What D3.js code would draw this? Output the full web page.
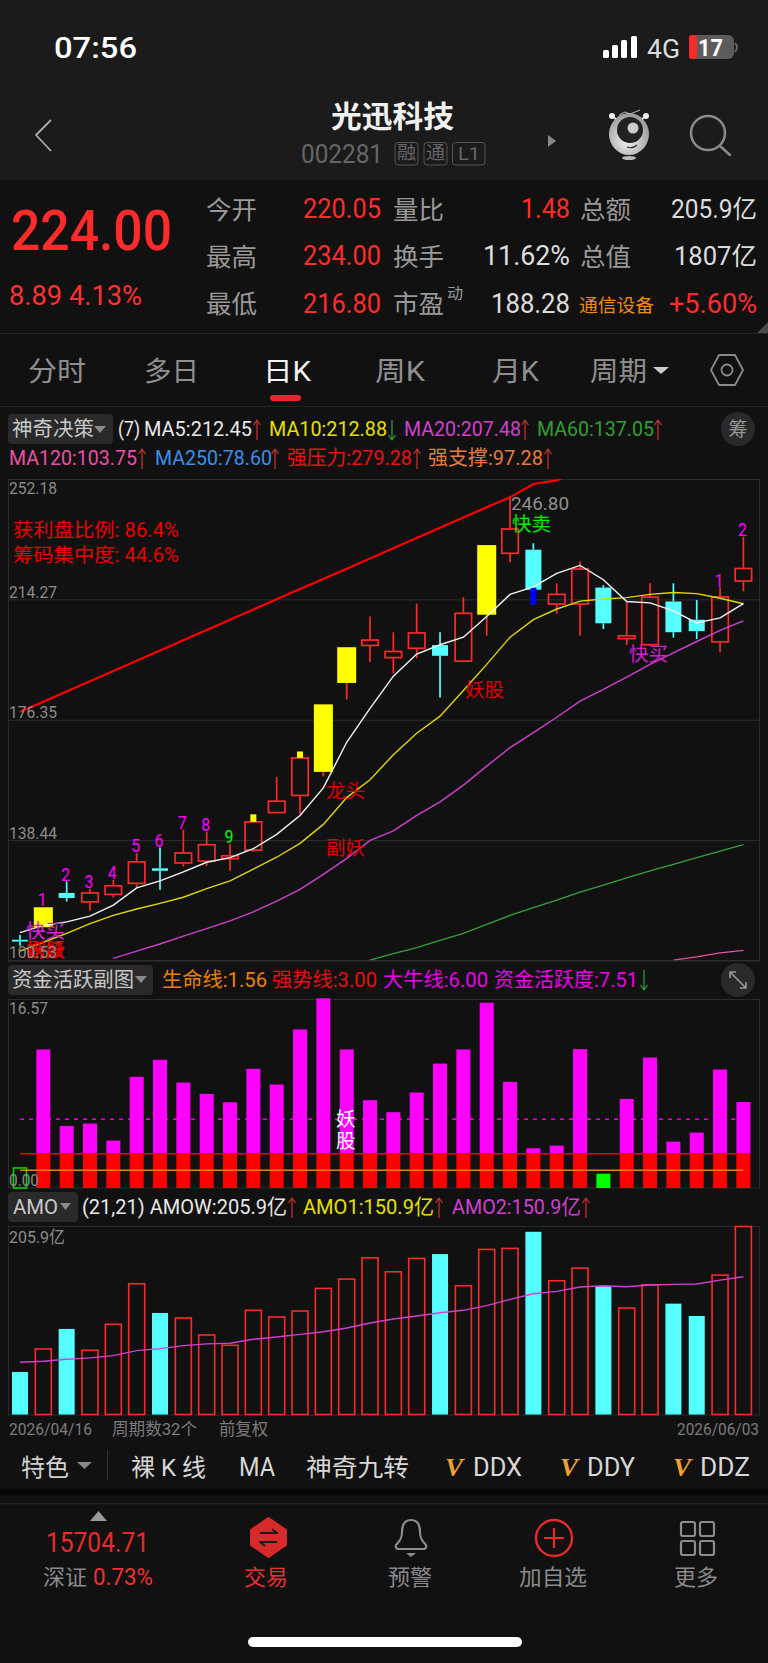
<!DOCTYPE html>
<html><head><meta charset="utf-8">
<style>html,body{margin:0;padding:0;background:#111;}svg{display:block;}text{font-family:Roboto,'Noto Sans CJK SC',sans-serif;white-space:pre;}</style>
<script src="https://cdn.jsdelivr.net/npm/d3@7"></script></head><body>
<script>
// ---- chart data ----
const priceTicks=[252.18,214.27,176.35,138.44,100.53];
const highs=[108.53,117.30,125.40,123.15,125.96,134.40,136.09,141.71,141.15,137.21,146.55,158.36,166.35,181.20,199.20,208.87,203.92,212.92,203.92,214.94,231.37,246.80,231.93,219.33,226.31,218.77,213.71,219.33,219.33,214.05,217.98,234.00];
const tops=[107.07,117.30,121.80,121.80,124.05,131.59,129.56,134.40,136.99,133.50,144.19,150.71,164.32,181.20,199.20,201.45,197.85,203.70,199.87,209.88,231.37,236.43,229.91,215.84,223.83,217.98,202.80,214.94,213.60,207.86,215.06,224.00];
const bottoms=[106.50,111.00,120.23,118.99,121.35,124.84,128.78,131.25,131.81,132.60,135.30,147.11,152.51,159.94,187.95,199.76,195.93,198.86,196.50,194.81,209.43,228.78,217.31,212.81,212.81,206.73,201.90,199.98,203.92,204.26,200.88,220.05];
const lows=[105.15,111.00,119.10,116.18,120.34,123.15,122.82,130.13,130.35,128.78,134.74,147.11,146.78,158.47,182.77,194.58,190.87,195.71,183.34,194.81,202.80,225.97,212.58,209.77,202.80,204.93,199.87,199.65,202.23,201.78,197.62,216.80];
const candleKinds=['c','y','c','r','r','r','c','r','r','r','r','r','r','y','y','r','r','r','c','r','y','r','c','r','r','c','r','r','c','c','r','r'];
const yellowTopIdx=[10,12];
const blueTailIdx=[22];
const ma5=[109.32,111.57,112.69,114.49,117.98,123.38,125.63,128.44,131.48,132.94,135.75,140.25,146.21,154.88,169.27,179.96,190.08,197.06,199.98,202.35,208.87,215.84,218.21,222.48,224.96,220.46,213.60,213.15,210.67,206.85,208.42,212.95];
const ma10=[103.47,106.28,109.09,112.13,114.72,116.74,118.54,120.45,123.15,125.63,129.34,133.05,137.44,143.40,151.84,157.46,165.34,172.09,177.49,185.59,193.80,202.35,207.86,211.23,213.71,214.38,214.83,215.84,216.41,216.07,214.61,212.88];
const ma20=[null,null,null,null,101.22,103.47,105.72,108.19,110.55,113.03,115.84,119.22,122.93,127.65,132.71,138.34,141.38,146.21,150.49,155.78,161.74,167.59,172.31,177.15,182.21,185.92,189.75,193.80,197.40,201.00,204.48,207.48];
const ma60=[null,null,null,null,null,null,null,null,null,null,null,null,null,null,null,100.65,102.68,104.59,106.84,109.09,111.90,114.72,117.19,119.55,122.03,124.28,126.53,128.78,130.80,132.94,134.96,137.05];
const ma120=[null,null,null,null,null,null,null,null,null,null,null,null,null,null,null,null,null,null,null,null,null,null,null,null,null,null,null,null,100.65,101.67,102.90,103.75];
const pressure=[178.84,182.06,185.28,188.50,191.72,194.95,198.17,201.39,204.61,207.84,211.06,214.28,217.50,220.72,223.95,227.17,230.39,233.61,236.84,240.06,243.28,246.40,250.60,251.73,255.00];
const nineIdx=[1,2,3,4,5,6,7,8,9,30,31];
const nineText=['1','2','3','4','5','6','7','8','9','1','2'];
const activity=[1.75,12.10,5.42,5.63,4.14,9.71,11.20,9.21,8.22,7.49,10.41,9.04,13.85,16.57,12.10,7.67,6.62,8.34,10.87,12.10,16.18,9.27,3.47,3.70,12.13,1.25,7.78,11.40,4.05,4.84,10.35,7.51];
const activityLevels={life:1.56,strong:3.00,bull:6.00};
const amo=[46.6,71.8,93.7,70.3,98.8,143.2,111.2,105.7,87.1,75.8,114.1,106.8,113.3,138.1,148.3,171.6,156.3,170.9,175.7,141.0,180.8,181.9,200.1,146.5,160.3,140.7,116.6,142.1,121.4,107.9,152.7,205.9];
const amoCyan=[0,2,6,18,22,25,28,29];
const amo2=[57.2,58.3,60.5,62.0,64.5,70.0,72.2,75.4,77.3,78.0,82.4,84.9,87.8,90.7,94.8,100.2,104.6,107.9,111.5,114.1,119.2,126.1,132.3,134.8,139.6,141.0,139.9,141.8,142.5,142.9,147.2,150.9];

const svg=d3.select('body').append('svg').attr('width',768).attr('height',1663).attr('viewBox','0 0 768 1663');
function T(x,y,s,size,color,o={}){
  const t=svg.append('text').attr('x',x).attr('y',y).text(s).attr('font-size',size).attr('fill',color);
  if(o.a)t.attr('text-anchor',o.a);
  if(o.wt)t.attr('font-weight',o.wt);
  if(o.w)t.attr('textLength',o.w).attr('lengthAdjust','spacingAndGlyphs');
  if(o.st)t.attr('font-style',o.st);
  if(o.ff)t.style('font-family',o.ff);
  return t;
}
function R(x,y,w,h,fill,o={}){
  const r=svg.append('rect').attr('x',x).attr('y',y).attr('width',w).attr('height',h).attr('fill',fill);
  if(o.r)r.attr('rx',o.r).attr('ry',o.r);
  if(o.s)r.attr('stroke',o.s).attr('stroke-width',o.sw||1);
  return r;
}
function P(d,o={}){return svg.append('path').attr('d',d).attr('fill',o.fill||'none').attr('stroke',o.s||'none').attr('stroke-width',o.sw||1).attr('stroke-linecap',o.cap||'butt').attr('stroke-linejoin','round');}
function upArrow(x,y1,y2,c){P(`M${x} ${y2}V${y1}M${x-3.5} ${y1+5}L${x} ${y1}L${x+3.5} ${y1+5}`,{s:c,sw:1.3});}
function dnArrow(x,y1,y2,c){P(`M${x} ${y1}V${y2}M${x-3.5} ${y2-5}L${x} ${y2}L${x+3.5} ${y2-5}`,{s:c,sw:1.3});}
const GREY='#8c8c8c',RED='#fa2a2a';

// ---- backgrounds ----
R(0,0,768,1663,'#111');
R(0,0,768,180,'#1b1b1b');
P('M768 322V333H757Z',{fill:'#4a4a4a'});
R(0,333,768,1,'#242424');
R(0,406,768,1,'#242424');

// ---- status bar ----
T(54,58,'07:56',30,'#fff',{w:83,wt:500});
[[603,8],[612,13],[621,18],[631,22]].forEach(([x,h])=>R(x,58-h,6,h,'#fff',{r:1.5}));
T(647,58,'4G',25,'#ddd',{w:33});
R(689,35,45,24,'#5c5c5c',{r:6});
R(689,35,8,24,RED,{r:3});
T(698,56,'17',24,'#fff',{w:25,wt:700});
P('M735 43Q739 47 735 52',{s:'#666',sw:2});

// ---- header ----
T(331,127,'光迅科技',30,'#f0f0f0',{w:123,wt:700});
P('M51 120L36 135L51 151',{s:'#aaa',sw:1.8});
T(301,163,'002281',26,'#666',{w:82});
R(395,142.5,23,22.5,'none',{r:3,s:'#555'});T(397,159,'融',18,'#666',{w:19});
R(424,142.5,23,22.5,'none',{r:3,s:'#555'});T(426,159,'通',18,'#666',{w:19});
R(452.5,142.5,32.5,22.5,'none',{r:3,s:'#555'});T(458,160,'L1',18,'#666',{w:22});
P('M548 135L556 141L548 147Z',{fill:'#888'});
// mascot
const lg=svg.append('defs').append('radialGradient').attr('id','egg').attr('cx','45%').attr('cy','65%').attr('r','70%');
lg.append('stop').attr('offset','0%').attr('stop-color','#f4f4f4');lg.append('stop').attr('offset','100%').attr('stop-color','#8f8f8f');
svg.append('ellipse').attr('cx',629).attr('cy',134).attr('rx',20).attr('ry',21).attr('fill','url(#egg)');
svg.append('circle').attr('cx',630).attr('cy',130).attr('r',13).attr('fill','#222');
svg.append('circle').attr('cx',633).attr('cy',128).attr('r',5.5).attr('fill','#ccc');
P('M627 147Q633 149 637 145',{s:'#333',sw:1.2});
P('M616 119L612 116M642 119L646 116',{s:'#ddd',sw:2});
svg.append('circle').attr('cx',612).attr('cy',116).attr('r',3).attr('fill','#eee');
svg.append('circle').attr('cx',646).attr('cy',116).attr('r',3).attr('fill','#eee');
P('M619 115L625 112L630 114L640 110',{s:'#bbb',sw:1});
svg.append('ellipse').attr('cx',629).attr('cy',158).attr('rx',7).attr('ry',2).attr('fill','#bbb');
// search
svg.append('circle').attr('cx',708).attr('cy',133).attr('r',17).attr('fill','none').attr('stroke','#8a8a8a').attr('stroke-width',2.5);
P('M720 146L730 155',{s:'#8a8a8a',sw:2.5,cap:'round'});

// ---- quote block ----
T(11,250,'224.00',56,'#ff2b2b',{w:161,wt:500});
T(9,305,'8.89 4.13%',27,'#ff3030',{w:133});
T(206,219,'今开',25.5,'#999');T(206,266,'最高',25.5,'#999');T(206,313,'最低',25.5,'#999');
T(303,218,'220.05',27,'#ff2b2b',{w:78});T(303,265,'234.00',27,'#ff2b2b',{w:78});T(303,313,'216.80',27,'#ff2b2b',{w:78});
T(393,219,'量比',25.5,'#999');T(393,266,'换手',25.5,'#999');T(393,313,'市盈',25.5,'#999');T(447,299,'动',16,'#999');
T(521,218,'1.48',27,'#ff2b2b',{w:49});T(483,265,'11.62%',27,'#ddd',{w:87});T(491,313,'188.28',27,'#ddd',{w:79});
T(580,219,'总额',25.5,'#999');T(580,266,'总值',25.5,'#999');
T(579,312,'通信设备',18.5,'#f08a10',{w:75});
T(671,218,'205.9亿',25,'#ddd',{w:86});T(674,265,'1807亿',25,'#ddd',{w:83});T(669,313,'+5.60%',27,'#ff2b2b',{w:88});

// ---- period tabs ----
[[28,'分时',58],[144,'多日',55],[375,'周K',50],[492,'月K',47],[590,'周期',57]].forEach(([x,s,w])=>T(x,381,s,27,'#8f8f8f',{w}));
T(263,381,'日K',27,'#f4f4f4',{w:48});
P('M653 367H669L661 374Z',{fill:'#ccc'});
P('M719 355H735L743 370L735 385H719L711 370Z',{s:'#8a8a8a',sw:1.8});
svg.append('circle').attr('cx',727).attr('cy',370).attr('r',5.5).attr('fill','none').attr('stroke','#8a8a8a').attr('stroke-width',1.8);
R(270,395,31,6,'#e8262c',{r:3});

// ---- main legend ----
R(8,414,105,30,'#2a2a2a',{r:4});
T(12,436,'神奇决策',20.5,'#c8c8c8',{w:82});
P('M94 426H106L100 433Z',{fill:'#8a8a8a'});
T(118,436,'(7)',21,'#e8e8e8',{w:22});
T(144,436,'MA5:212.45',21,'#e8e8e8',{w:108});upArrow(257,420,440,'#c03030');
T(269,436,'MA10:212.88',21,'#e6e000',{w:118});dnArrow(392,420,440,'#2a9a3a');
T(404,436,'MA20:207.48',21,'#d040d0',{w:117});upArrow(525,420,440,'#c03030');
T(537,436,'MA60:137.05',21,'#30a030',{w:117});upArrow(658,420,440,'#c03030');
svg.append('circle').attr('cx',738).attr('cy',429).attr('r',17).attr('fill','#2a2a2a');
T(738,436,'筹',19,'#999',{a:'middle'});
T(9,465,'MA120:103.75',21,'#ec4fa8',{w:128});upArrow(142,449,469,'#c03030');
T(155,465,'MA250:78.60',21,'#3a90e8',{w:117});upArrow(275,449,469,'#c03030');
T(287,465,'强压力:279.28',20.5,'#f01010',{w:125});upArrow(417,449,469,'#c03030');
T(428,465,'强支撑:97.28',20.5,'#e87a3c',{w:115});upArrow(548,449,469,'#c03030');

// ---- main chart ----
const x=d3.scaleLinear().domain([0,31]).range([20,743.4]);
const y=d3.scaleLinear().domain([100.53,252.18]).range([960.5,479]);
const defs=svg.append('defs');
defs.append('clipPath').attr('id','mainClip').append('rect').attr('x',8).attr('y',479).attr('width',752).attr('height',481.5);
R(8.5,479.5,751,481,'none',{s:'#2b2b2b'});
const grid=svg.append('g').attr('transform','translate(8,0)').call(d3.axisRight(y).tickValues(priceTicks).tickSize(752).tickFormat(''));
grid.select('.domain').remove();grid.selectAll('line').attr('stroke','#2e2e2e');
const plot=svg.append('g');
const candleColor={r:RED,c:'#55ffff',y:'#ffff00'};
highs.forEach((h,i)=>{
  const k=candleKinds[i],cx=x(i),t=y(tops[i]),b=y(bottoms[i]);
  const wc=k==='y'?RED:candleColor[k];
  const bw=k==='y'?19:(k==='c'?16:16.5);
  plot.append('line').attr('x1',cx).attr('x2',cx).attr('y1',y(h)).attr('y2',t).attr('stroke',wc).attr('stroke-width',1.7);
  plot.append('line').attr('x1',cx).attr('x2',cx).attr('y1',b).attr('y2',y(lows[i])).attr('stroke',wc).attr('stroke-width',1.7);
  const r=plot.append('rect').attr('x',cx-bw/2).attr('y',t).attr('width',bw).attr('height',Math.max(b-t,1));
  if(k==='r')r.attr('fill','none').attr('stroke',RED).attr('stroke-width',1.7);
  else r.attr('fill',candleColor[k]);
  if(yellowTopIdx.includes(i))plot.append('rect').attr('x',cx-3).attr('y',y(h)).attr('width',6).attr('height',t-y(h)).attr('fill','#ffff00');
  if(blueTailIdx.includes(i))plot.append('rect').attr('x',cx-3).attr('y',b-2).attr('width',6).attr('height',y(lows[i])-b+2).attr('fill','#0000ff');
});
const lineMain=d3.line().defined(d=>d!=null).x((d,i)=>x(i)).y(d=>y(d));
const cg=svg.append('g').attr('clip-path','url(#mainClip)');
[[ma120,'#e84fa0',1.3],[ma60,'#38a038',1.3],[ma20,'#d040d0',1.4],[ma10,'#e0d800',1.4],[ma5,'#f4f4f4',1.4],[pressure,'#ff0000',2.2]].forEach(([d,c,w])=>{
  cg.append('path').datum(d).attr('d',lineMain).attr('fill','none').attr('stroke',c).attr('stroke-width',w);
});
// chart annotations
T(13,537,'获利盘比例: 86.4%',19.5,'#ee0000',{w:166});
T(13,562,'筹码集中度: 44.6%',19.5,'#ee0000',{w:166});
nineIdx.forEach((n,j)=>{
  const isGreen=nineText[j]==='9';
  T(x(n)-1,y(highs[n])-1,nineText[j],19,isGreen?'#00ff00':'#ff00ff',{a:'middle',w:9});
});
T(511,510,'246.80',19,'#8f8f8f',{w:58});
T(512,531,'快卖',19.5,'#00f000');
T(629,661,'快买',19.5,'#d020d0');
T(465,697,'妖股',19.5,'#e00000');
T(326,798,'龙头',19.5,'#e00000');
T(326,855,'副妖',19.5,'#e00000');
T(26,938,'快买',19.5,'#e020e0');
T(26,957,'副妖',19.5,'#ee0000');
T(26,957,'妖股',19.5,'#ee0000');
priceTicks.forEach((p,i)=>T(9,[494,597.5,718,838.5,958][i],p.toFixed(2),17,GREY,{w:48}));

// ---- activity panel ----
R(8,965,145,30,'#2a2a2a',{r:4});
T(12,987,'资金活跃副图',20.5,'#c8c8c8',{w:122});
P('M135 976H147L141 983Z',{fill:'#8a8a8a'});
T(162,987,'生命线:1.56',20.5,'#f08000',{w:105});
T(272,987,'强势线:3.00',20.5,'#e81010',{w:105});
T(383,987,'大牛线:6.00',20.5,'#ee00ee',{w:105});
T(494,987,'资金活跃度:7.51',20.5,'#ee00ee',{w:144});
dnArrow(644,970,990,'#2a9a3a');
svg.append('circle').attr('cx',738).attr('cy',980).attr('r',17).attr('fill','#2a2a2a');
P('M730 972L746 988M730 978V972H736M746 982V988H740',{s:'#999',sw:1.6});
R(8.5,999.5,751,188.5,'none',{s:'#2b2b2b'});
const ya=d3.scaleLinear().domain([0,16.57]).range([1188,998.3]);
P(`M${x(0)} ${ya(activityLevels.bull)}H${x(31)}`,{s:'#ee00ee',sw:1.6}).attr('stroke-dasharray','4 5');
activity.forEach((v,i)=>{
  const cx=x(i);
  if(i===0){R(cx-6.5,ya(v),13,1188-ya(v),'none',{s:'#00e000',sw:1.5});return;}
  if(v<activityLevels.strong){R(cx-7,ya(v),14,1188-ya(v),'#00ff00');return;}
  R(cx-7,ya(v),14,ya(activityLevels.strong)-ya(v),'#ff00ff');
  R(cx-7,ya(activityLevels.strong),14,1188-ya(activityLevels.strong),'#ff0000');
});
P(`M${x(0)} ${ya(activityLevels.strong)}H${x(31)}`,{s:'#f00000',sw:1.5});
P(`M${x(0)} ${ya(activityLevels.life)}H${x(31)}`,{s:'#f08000',sw:1.5});
T(9,1014,'16.57',17,GREY,{w:39});
T(9,1186,'0.00',17,GREY,{w:30});
T(336,1126,'妖',19.5,'#fff');
T(336,1148,'股',19.5,'#fff');

// ---- AMO panel ----
R(8,1192,70,30,'#2a2a2a',{r:4});
T(13,1214,'AMO',21,'#c8c8c8',{w:45});
P('M60 1203H71L65.5 1210Z',{fill:'#8a8a8a'});
T(82,1214,'(21,21) AMOW:205.9亿',21,'#e8e8e8',{w:205});upArrow(292,1198,1218,'#c03030');
T(303,1214,'AMO1:150.9亿',21,'#e6e000',{w:131});upArrow(439,1198,1218,'#c03030');
T(452,1214,'AMO2:150.9亿',21,'#d040d0',{w:129});upArrow(586,1198,1218,'#c03030');
R(8.5,1226.5,751,188.5,'none',{s:'#2b2b2b'});
const yv=d3.scaleLinear().domain([0,205.9]).range([1414.5,1226.5]);
amo.forEach((v,i)=>{
  if(amoCyan.includes(i))R(x(i)-8,yv(v),16,yv(0)-yv(v),'#55ffff');
  else R(x(i)-8,yv(v),16,yv(0)-yv(v),'none',{s:RED,sw:1.6});
});
svg.append('path').datum(amo2).attr('d',d3.line().x((d,i)=>x(i)).y(d=>yv(d))).attr('fill','none').attr('stroke','#d040d0').attr('stroke-width',1.4);
T(9,1243,'205.9亿',17,GREY,{w:56});
T(9,1435,'2026/04/16',17,'#7c7c7c',{w:83});
T(112,1435,'周期数32个',16.5,'#7c7c7c',{w:85});
T(219,1435,'前复权',16.5,'#7c7c7c',{w:49});
T(677,1435,'2026/06/03',17,'#7c7c7c',{w:82});

// ---- toolbar ----
T(21,1476,'特色',24,'#d0d0d0',{w:48});
P('M77 1462H92L84.5 1469Z',{fill:'#888'});
R(107,1450,1,30,'#333');
T(131,1476,'裸 K 线',24,'#d8d8d8',{w:75});
T(239,1476,'MA',25,'#d8d8d8',{w:36});
T(306,1476,'神奇九转',24,'#d8d8d8',{w:103});
[[445,473,'DDX',49],[560,587,'DDY',48],[673,700,'DDZ',50]].forEach(([vx,tx,s,w])=>{
  T(vx,1476,'V',26,'#f0a030',{w:18,wt:700,st:'italic',ff:"'Liberation Serif',serif"});
  T(tx,1476,s,25,'#d8d8d8',{w});
});
R(0,1489,768,6,'#050505');
R(0,1503,768,1.5,'#202020');

// ---- bottom nav ----
P('M90 1521L98.5 1511L107 1521Z',{fill:'#999'});
T(46,1552,'15704.71',27,'#e82a2a',{w:103});
T(43,1585,'深证',22,'#8a8a8a');
T(93,1585,'0.73%',23,'#f03030',{w:60});
const rg=defs.append('linearGradient').attr('id','trade').attr('x1',0).attr('y1',0).attr('x2',0).attr('y2',1);
rg.append('stop').attr('offset','0%').attr('stop-color','#ee3030');rg.append('stop').attr('offset','100%').attr('stop-color','#b82222');
P('M268.5 1518L286 1530V1545L268.5 1557L251 1545V1530Z',{fill:'#d82a2a',s:'#d82a2a',sw:2});
P('M260 1533H277L272 1529M277 1542H260L265 1546',{s:'#1a1a1a',sw:2});
T(244,1585,'交易',22,'#e83030');
P('M411 1520C404 1520 402 1526 402 1532C402 1540 399 1541 396 1545C395 1548 397 1549 399 1549H423C425 1549 427 1548 426 1545C423 1541 420 1540 420 1532C420 1526 418 1520 411 1520Z',{s:'#8c8c8c',sw:2.2});
P('M406 1553H416L411 1557Z',{fill:'#8c8c8c'});
T(388,1585,'预警',22,'#8a8a8a');
svg.append('circle').attr('cx',554).attr('cy',1538).attr('r',18).attr('fill','none').attr('stroke','#e82a2a').attr('stroke-width',2.4);
P('M544 1538H564M554 1528V1548',{s:'#e82a2a',sw:2.2});
T(519,1585,'加自选',22,'#8a8a8a',{w:68});
[[680,1521],[699,1521],[680,1540],[699,1540]].forEach(([a,b])=>R(a+1,b+1,14,14,'none',{r:2,s:'#8c8c8c',sw:2.2}));
T(674,1585,'更多',22,'#8a8a8a');
R(248,1637,274,10,'#fff',{r:5});
</script></body></html>
